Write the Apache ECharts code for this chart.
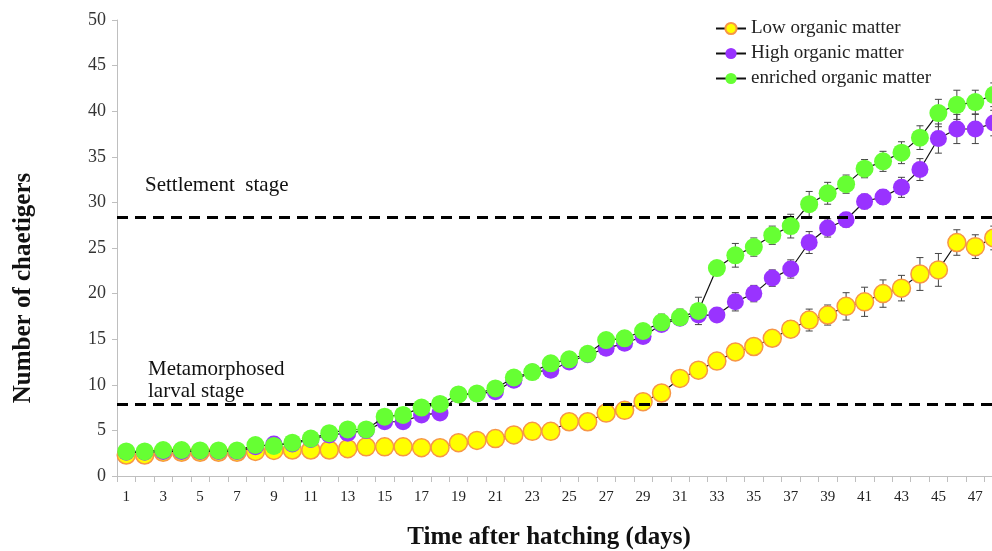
<!DOCTYPE html>
<html>
<head>
<meta charset="utf-8">
<script src="https://cdn.jsdelivr.net/npm/echarts@6/dist/echarts.min.js"></script>
<style>
html,body{margin:0;padding:0;background:#fff;overflow:hidden;}
#chart{width:1010px;height:551px;}
</style>
</head>
<body>
<div id="chart"></div>
<script>
var days = ['1','2','3','4','5','6','7','8','9','10','11','12','13','14','15','16','17','18','19','20','21','22','23','24','25','26','27','28','29','30','31','32','33','34','35','36','37','38','39','40','41','42','43','44','45','46','47','48'];

var lowOM = [2.3,2.3,2.6,2.6,2.6,2.6,2.6,2.7,2.8,2.85,2.85,2.85,3.0,3.2,3.2,3.2,3.1,3.1,3.65,3.9,4.1,4.5,4.9,4.9,5.95,5.95,6.9,7.2,8.15,9.1,10.7,11.6,12.6,13.6,14.2,15.1,16.1,17.1,17.65,18.6,19.1,20.0,20.6,22.15,22.6,25.6,25.15,26.1];
var highOM = [2.6,2.6,2.7,2.7,2.7,2.7,2.7,3.2,3.5,3.5,4.0,4.5,4.7,5.0,5.95,5.95,6.7,6.9,8.9,9.0,9.25,10.5,11.4,11.6,12.5,13.3,14.0,14.55,15.3,16.6,17.3,17.65,17.65,19.1,20.0,21.7,22.7,25.6,27.2,28.1,30.1,30.6,31.65,33.6,37.0,38.05,38.05,38.7];
var enrichedOM = [2.7,2.7,2.85,2.85,2.8,2.8,2.8,3.4,3.3,3.65,4.1,4.7,5.1,5.1,6.5,6.7,7.5,7.9,8.95,9.05,9.6,10.8,11.4,12.35,12.8,13.4,14.9,15.1,15.9,16.85,17.4,18.1,22.8,24.2,25.1,26.4,27.4,29.8,31.0,32.0,33.7,34.5,35.45,37.1,39.8,40.7,41.0,41.8];

var lowErr = [0.2,0.2,0.2,0.2,0.2,0.2,0.2,0.2,0.2,0.2,0.2,0.2,0.2,0.2,0.2,0.2,0.2,0.2,0.3,0.3,0.3,0.3,0.3,0.3,0.4,0.4,0.4,0.4,0.5,0.5,0.5,0.5,0.5,0.6,0.6,0.8,0.9,1.2,1.1,1.5,1.6,1.5,1.4,1.8,1.8,1.4,1.3,1.3];
var highErr = [0.2,0.2,0.2,0.2,0.2,0.2,0.2,0.2,0.2,0.2,0.2,0.2,0.2,0.2,0.2,0.2,0.2,0.2,0.2,0.2,0.3,0.3,0.4,0.4,0.4,0.4,0.5,0.5,0.5,0.5,0.6,0.6,0.6,1.0,0.9,0.9,1.0,1.2,1.0,0.8,0.8,0.8,1.1,1.2,1.6,1.6,1.6,1.4];
var enrichedErr = [0.3,0.3,0.3,0.3,0.3,0.3,0.3,0.3,0.3,0.3,0.3,0.3,0.3,0.3,0.3,0.3,0.3,0.3,0.3,0.3,0.4,0.4,0.5,0.5,0.5,0.5,0.5,0.5,0.6,0.9,0.9,1.5,0.8,1.3,1.0,1.0,1.3,1.4,1.2,1.0,1.0,1.1,1.2,1.3,1.5,1.6,1.3,1.3];

var stageLines = [28.4, 7.9];
var seriesNames = ['Low organic matter','High organic matter','enriched organic matter'];
var yTicks = [0,5,10,15,20,25,30,35,40,45,50];

var SERIF = '"Liberation Serif","Times New Roman",serif';

function errData(vals, errs){
  return vals.map(function(v,i){ return [i, v - errs[i], v + errs[i]]; });
}
function errRender(params, api){
  var x = api.value(0);
  var lo = api.coord([x, api.value(1)]);
  var hi = api.coord([x, api.value(2)]);
  var w = 3.5;
  var st = {stroke:'#444', lineWidth:1};
  return {type:'group', children:[
    {type:'line', shape:{x1:lo[0],y1:lo[1],x2:hi[0],y2:hi[1]}, style:st},
    {type:'line', shape:{x1:lo[0]-w,y1:lo[1],x2:lo[0]+w,y2:lo[1]}, style:st},
    {type:'line', shape:{x1:hi[0]-w,y1:hi[1],x2:hi[0]+w,y2:hi[1]}, style:st}
  ]};
}

var chart = echarts.init(document.getElementById('chart'), null, {renderer:'canvas'});
chart.setOption({
  animation:false,
  backgroundColor:'#fff',
  grid:{left:117, top:20, bottom:75, right:7, containLabel:false},
  legend:{
    orient:'vertical', left:710, top:13, itemGap:4,
    itemWidth:30, itemHeight:14,
    data:seriesNames,
    textStyle:{fontFamily:SERIF, fontSize:19, lineHeight:21, color:'#222'}
  },
  xAxis:{
    type:'category', data:days, boundaryGap:true,
    axisLine:{lineStyle:{color:'#BFBFBF', width:1}},
    axisTick:{show:true, interval:0, length:6, lineStyle:{color:'#BFBFBF'}},
    axisLabel:{interval:1, margin:14, fontFamily:SERIF, fontSize:15, color:'#222'},
    splitLine:{show:false}
  },
  yAxis:{
    type:'value', min:0, max:50, interval:5,
    axisLine:{show:true, lineStyle:{color:'#BFBFBF', width:1}},
    axisTick:{show:true, length:5, lineStyle:{color:'#BFBFBF'}},
    axisLabel:{margin:11, fontFamily:SERIF, fontSize:18, color:'#333',
      formatter:function(v){ return yTicks.indexOf(v) >= 0 ? String(v) : ''; }},
    splitLine:{show:false}
  },
  graphic:[
    {type:'text', left:145, top:175, style:{text:'Settlement  stage', font:'21px '+SERIF, fill:'#111'}},
    {type:'text', left:148, top:359, style:{text:'Metamorphosed', font:'21px '+SERIF, fill:'#111'}},
    {type:'text', left:148, top:381, style:{text:'larval stage', font:'21px '+SERIF, fill:'#111'}},
    {type:'text', x:24, y:288, rotation:Math.PI/2, style:{text:'Number of chaetigers', font:'bold 25px '+SERIF, fill:'#111', align:'center', verticalAlign:'middle'}},
    {type:'text', x:549, y:538, style:{text:'Time after hatching (days)', font:'bold 25px '+SERIF, fill:'#111', align:'center', verticalAlign:'middle'}}
  ],
  series:[
    {type:'custom', name:'errLow', z:1, silent:true, renderItem:errRender, data:errData(lowOM, lowErr), encode:{x:0,y:[1,2]}},
    {type:'custom', name:'errHigh', z:1, silent:true, renderItem:errRender, data:errData(highOM, highErr), encode:{x:0,y:[1,2]}},
    {type:'custom', name:'errEnr', z:1, silent:true, renderItem:errRender, data:errData(enrichedOM, enrichedErr), encode:{x:0,y:[1,2]}},
    {
      type:'line', name:seriesNames[0], data:lowOM, z:3,
      symbol:'circle', symbolSize:18, showAllSymbol:true,
      lineStyle:{color:'#111', width:1.2},
      itemStyle:{color:'#FFFF00', borderColor:'#F79646', borderWidth:1.5},
      markLine:{
        silent:true, symbol:['none','none'], label:{show:false},
        lineStyle:{color:'#000', width:3, type:[11,7]},
        data:stageLines.map(function(v){ return {yAxis:v}; })
      }
    },
    {
      type:'line', name:seriesNames[1], data:highOM, z:4,
      symbol:'circle', symbolSize:17, showAllSymbol:true,
      lineStyle:{color:'#111', width:1.2},
      itemStyle:{color:'#9933FF', borderColor:'#9933FF', borderWidth:0}
    },
    {
      type:'line', name:seriesNames[2], data:enrichedOM, z:5,
      symbol:'circle', symbolSize:18, showAllSymbol:true,
      lineStyle:{color:'#111', width:1.2},
      itemStyle:{color:'#66FF33', borderColor:'#66FF33', borderWidth:0}
    }
  ]
});
</script>
</body>
</html>
